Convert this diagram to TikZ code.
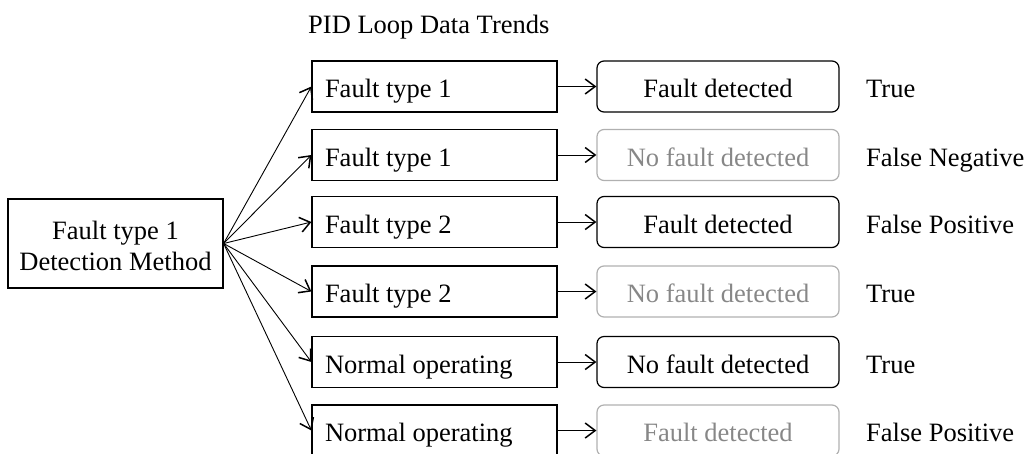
\documentclass[tikz,border=0pt]{standalone}
\usepackage{fontspec}
\setmainfont{Liberation Serif}
\usetikzlibrary{arrows.meta}
\definecolor{dimline}{RGB}{176,176,176}
\definecolor{dimtext}{RGB}{135,135,135}
\newcommand\lefttext[1]{\makebox[219pt][l]{#1}}
\tikzset{
  every node/.style={font=\fontsize{26.5}{30.7}\selectfont},
  boxed/.style={draw, line width=1.2pt, minimum height=51pt, inner sep=0pt, text height=22.4pt, text depth=0pt},
  source/.style={draw, line width=1.2pt, minimum width=215pt, minimum height=89pt, align=center, inner sep=0pt, text height=53pt, text depth=0pt},
  trend/.style={boxed, minimum width=245pt},
  result/.style={boxed, rounded corners=7pt, minimum width=242pt},
  dimresult/.style={result, draw=dimline, text=dimtext},
  verdict/.style={anchor=base west, inner sep=0pt},
  link/.style={-{Straight Barb[length=10pt, width=15pt, line width=1.5pt]}, line width=0.9pt},
}
\begin{document}
\begin{tikzpicture}[x=1pt, y=-1pt]
\useasboundingbox (0,0) rectangle (1027,453);

\node[anchor=base west, inner sep=0pt] (title) at (308,33) {PID Loop Data Trends};

\node[source] (src) at (115.5,243.5) {Fault type 1\\Detection Method};

% trend boxes
\node[trend] (t1) at (434.5,86.5)  {\lefttext{Fault type 1}};
\node[trend] (t2) at (434.5,155)   {\lefttext{Fault type 1}};
\node[trend] (t3) at (434.5,222)   {\lefttext{Fault type 2}};
\node[trend] (t4) at (434.5,291.5) {\lefttext{Fault type 2}};
\node[trend] (t5) at (434.5,362)   {\lefttext{Normal operating}};
\node[trend] (t6) at (434.5,430.5) {\lefttext{Normal operating}};

% detection results
\node[result]    (r1) at (718,86.5)  {Fault detected};
\node[dimresult] (r2) at (718,155)   {No fault detected};
\node[result]    (r3) at (718,222)   {Fault detected};
\node[dimresult] (r4) at (718,291.5) {No fault detected};
\node[result]    (r5) at (718,362)   {No fault detected};
\node[dimresult] (r6) at (718,430.5) {Fault detected};

% verdicts, on the baseline of the box text
\node[verdict] (v1) at (866,97.7)  {True};
\node[verdict] (v2) at (866,166.2) {False Negative};
\node[verdict] (v3) at (866,233.2) {False Positive};
\node[verdict] (v4) at (866,302.7) {True};
\node[verdict] (v5) at (866,373.2) {True};
\node[verdict] (v6) at (866,441.7) {False Positive};

\foreach \i in {1,...,6} {
  \draw[link] (src.east) -- (t\i.west);
  \draw[link] (t\i.east) -- (r\i.west);
}
\end{tikzpicture}
\end{document}
